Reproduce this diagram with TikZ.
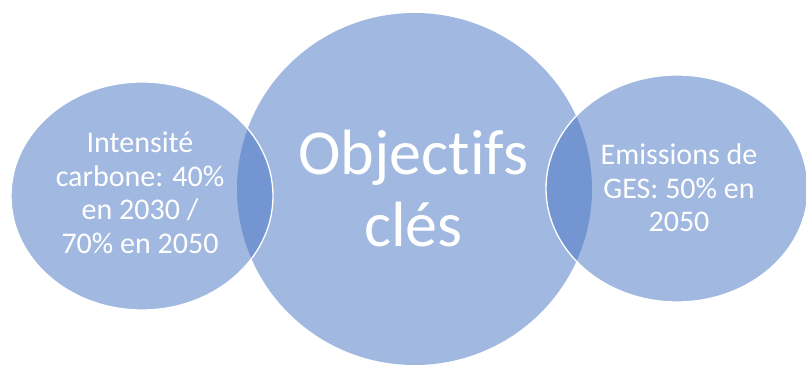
\documentclass[tikz,border=0pt]{standalone}
\usepackage{fontspec}
\setmainfont[Ligatures=NoCommon]{Carlito}
\definecolor{bubble}{RGB}{161,184,224}
\definecolor{overlap}{RGB}{115,149,209}
\tikzset{
  bubbletext/.style={text=white, align=center, inner sep=0pt},
  smalltext/.style={bubbletext, font=\fontsize{30}{33.5}\selectfont},
  bigtext/.style={bubbletext, font=\fontsize{64}{72}\selectfont},
  rim/.style={draw=white, line width=1.3pt}
}
\begin{document}
\begin{tikzpicture}[x=1pt,y=1pt]
\useasboundingbox (0,0) rectangle (806,366);
% centre circle
\fill[bubble] (414.5,177) ellipse [x radius=177.5, y radius=176];
% side ellipses
\fill[bubble] (142,170) ellipse [x radius=131, y radius=114];
\fill[bubble] (677,177.5) ellipse [x radius=131, y radius=113.5];
% overlaps
\begin{scope}
  \clip (414.5,177) ellipse [x radius=177.5, y radius=176];
  \fill[overlap] (142,170) ellipse [x radius=131, y radius=114];
  \fill[overlap] (677,177.5) ellipse [x radius=131, y radius=113.5];
\end{scope}
% white rims
\draw[rim] (142,170) ellipse [x radius=131, y radius=114];
\draw[rim] (677,177.5) ellipse [x radius=131, y radius=113.5];
% texts
\node[bigtext] (centre) at (413.5,177) {Objectifs\\clés};
\node[smalltext] (left) at (140,173) {Intensité\\carbone: 40\%\\en 2030 /\\70\% en 2050};
\node[smalltext] (right) at (679,178) {Emissions de\\GES: 50\% en\\2050};
\end{tikzpicture}
\end{document}
